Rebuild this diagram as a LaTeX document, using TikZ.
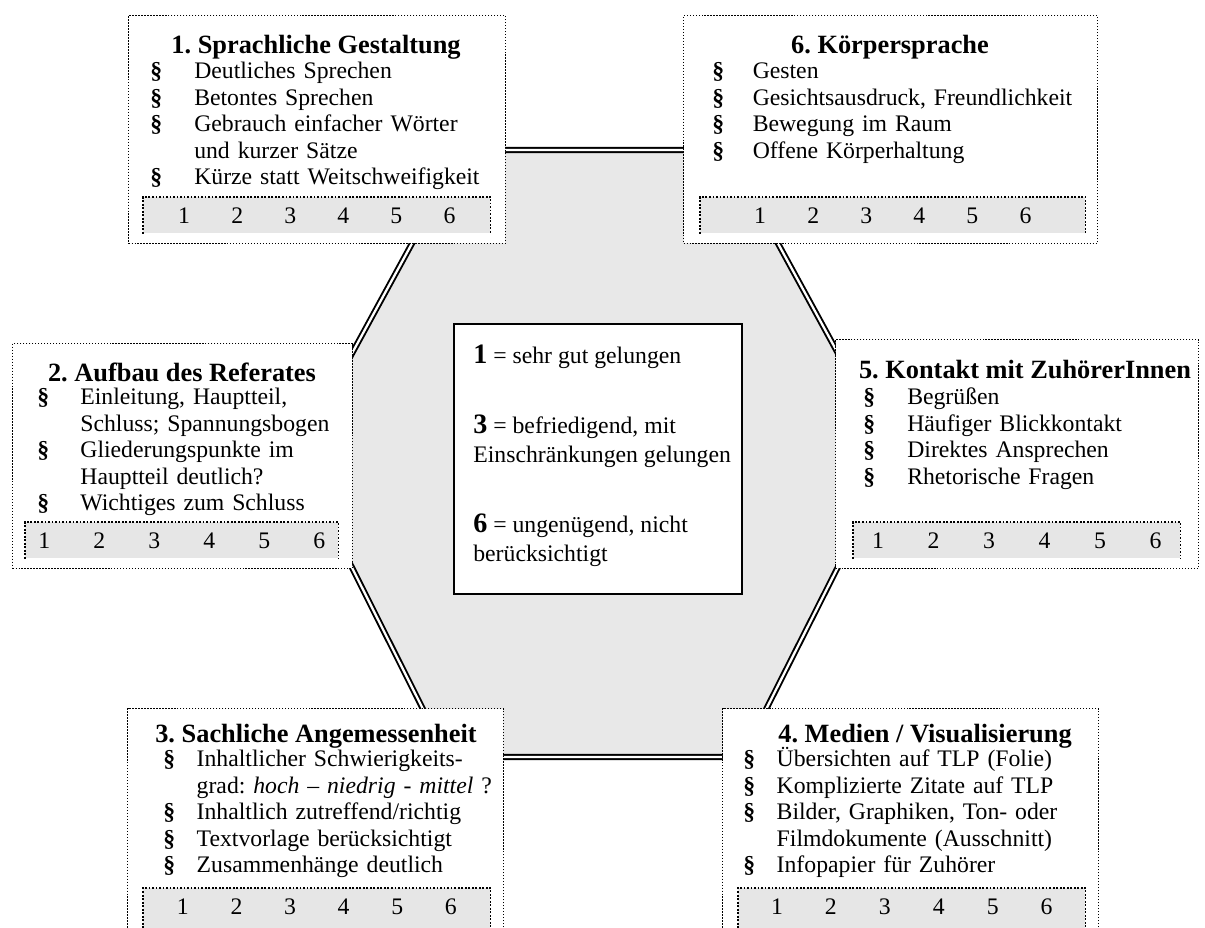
\documentclass[tikz,border=0pt]{standalone}
\usepackage{fontspec}
\setmainfont{Liberation Serif}
\usetikzlibrary{positioning}
\definecolor{chex}{HTML}{E8E8E8}
\definecolor{cbar}{HTML}{E6E6E6}
\frenchspacing
\newcommand{\pitem}[2][25pt]{\noindent\hangindent=#1\hangafter=1\makebox[#1][l]{\textbf{\S}}#2\par}
\newcommand{\noten}[1][30.5pt]{\makebox[#1]{1}\makebox[#1]{2}\makebox[#1]{3}\makebox[#1]{4}\makebox[#1]{5}\makebox[#1]{6}}
\newcommand{\bignum}[1]{{\fontsize{16}{16}\selectfont\bfseries #1}}

\begin{document}
\begin{tikzpicture}[
    x=0.02cm, y=-0.02cm,
    card/.style={draw, fill=white, line width=0.6pt, dash pattern=on 0.8pt off 0.9pt,
                 anchor=north west, inner sep=0pt},
    bar/.style={fill=cbar, anchor=north west, inner sep=0pt, minimum height=0.72cm},
    bardot/.style={line width=0.9pt, dash pattern=on 1pt off 1pt},
    head/.style={inner sep=0pt, font=\fontsize{15}{17}\selectfont\bfseries},
    items/.style={anchor=base west, inner sep=0pt, text width=8cm, align=left,
                  font=\fontsize{13.5}{15}\selectfont},
    marks/.style={inner sep=0pt, font=\fontsize{13.5}{15}\selectfont},
    dline/.style={double, double distance=1.3pt, line width=1.1pt},
    key/.style={draw, fill=white, line width=0.9pt, anchor=north west,
                minimum width=5.76cm, minimum height=5.4cm},
    keytext/.style={anchor=base west, inner sep=0pt, align=left,
                    font=\fontsize{13.5}{16.8}\selectfont}
]
\useasboundingbox (0,0) rectangle (1205,928);
\clip (0,0) rectangle (1205,928);

\coordinate (otl) at (463,150);
\coordinate (otr) at (727,150);
\coordinate (ori) at (894,456);
\coordinate (obr) at (742,757);
\coordinate (obl) at (447,757);
\coordinate (ole) at (296,456);
\fill[chex] (otl) -- (otr) -- (ori) -- (obr) -- (obl) -- (ole) -- cycle;
\draw[dline] (otl) -- (otr) -- (ori) -- (obr) -- (obl) -- (ole) -- cycle;

\node[card, minimum width=7.54cm, minimum height=4.56cm] (b1) at (128,15) {};
\node[card, minimum width=8.28cm, minimum height=4.56cm] (b6) at (683,15) {};
\node[card, minimum width=6.8cm, minimum height=4.5cm] (b2) at (12,343) {};
\node[card, minimum width=7.26cm, minimum height=4.58cm] (b5) at (835,339) {};
\node[card, minimum width=7.52cm, minimum height=4.8cm] (b3) at (127,708) {};
\node[card, minimum width=7.52cm, minimum height=4.8cm] (b4) at (722,708) {};

\node[head] (h1) at (316,47) {1. Sprachliche Gestaltung};
\node[head] (h6) at (890,47) {6. Körpersprache};
\node[head] (h2) at (182,372) {2. Aufbau des Referates};
\node[head] (h5) at (1025,370) {5. Kontakt mit ZuhörerInnen};
\node[head] (h3) at (316,736) {3. Sachliche Angemessenheit};
\node[head] (h4) at (925,736) {4. Medien / Visualisierung};

\node[items] (l1) at (150,79) {\pitem{Deutliches Sprechen}\pitem{Betontes Sprechen}
  \pitem{Gebrauch einfacher Wörter\newline und kurzer Sätze}\pitem{Kürze statt Weitschweifigkeit}};
\node[items] (l6) at (712,79) {\pitem[23pt]{Gesten}\pitem[23pt]{Gesichtsausdruck, Freundlichkeit}
  \pitem[23pt]{Bewegung im Raum}\pitem[23pt]{Offene Körperhaltung}};
\node[items] (l2) at (37,405) {\pitem[24.5pt]{Einleitung, Hauptteil,\newline Schluss; Spannungsbogen}
  \pitem[24.5pt]{Gliederungspunkte im\newline Hauptteil deutlich?}\pitem[24.5pt]{Wichtiges zum Schluss}};
\node[items] (l5) at (863,405) {\pitem{Begrüßen}\pitem{Häufiger Blickkontakt}
  \pitem{Direktes Ansprechen}\pitem{Rhetorische Fragen}};
\node[items] (l3) at (163,767) {\pitem[19pt]{Inhaltlicher Schwierigkeits-\newline grad: \textit{hoch – niedrig - mittel} ?}
  \pitem[19pt]{Inhaltlich zutreffend/richtig}\pitem[19pt]{Textvorlage berücksichtigt}
  \pitem[19pt]{Zusammenhänge deutlich}};
\node[items] (l4) at (743,767) {\pitem[19pt]{Übersichten auf TLP (Folie)}\pitem[19pt]{Komplizierte Zitate auf TLP}
  \pitem[19pt]{Bilder, Graphiken, Ton- oder\newline Filmdokumente (Ausschnitt)}
  \pitem[19pt]{Infopapier für Zuhörer}};

\node[bar, minimum width=6.94cm] (r1) at (143,197) {};
\node[bar, minimum width=7.7cm] (r6) at (700,197) {};
\node[bar, minimum width=6.26cm] (r2) at (25,522) {};
\node[bar, minimum width=6.54cm] (r5) at (853,522) {};
\node[bar, minimum width=6.94cm, minimum height=1cm] (r3) at (143,888) {};
\node[bar, minimum width=6.94cm, minimum height=1cm] (r4) at (738,888) {};

\draw[bardot] (r1.south west) |- (r1.north east) -- (r1.south east);
\draw[bardot] (r6.south west) |- (r6.north east) -- (r6.south east);
\draw[bardot] (r2.south west) |- (r2.north east) -- (r2.south east);
\draw[bardot] (r5.south west) |- (r5.north east) -- (r5.south east);
\draw[bardot] (r3.south west) |- (r3.north east) -- (r3.south east);
\draw[bardot] (r4.south west) |- (r4.north east) -- (r4.south east);

\node[marks, below=0.2cm of r1.north] (n1) {\noten[30.2pt]};
\node[marks, below=0.2cm of r6.north] (n6) {\noten[30.2pt]};
\node[marks, below=0.2cm of r2.north] (n2) {\noten[31.3pt]};
\node[marks, below=0.2cm of r5.north] (n5) {\noten[31.6pt]};
\node[marks, below=0.2cm of r3.north] (n3) {\noten[30.5pt]};
\node[marks, below=0.2cm of r4.north] (n4) {\noten[30.7pt]};

\node[key] (k) at (453,323) {};
\node[keytext] (kt) at (473,562) {\bignum{1} = sehr gut gelungen\\[23pt]
  \bignum{3} = befriedigend, mit\\ Einschränkungen gelungen\\[23pt]
  \bignum{6} = ungenügend, nicht\\ berücksichtigt};
\end{tikzpicture}
\end{document}
